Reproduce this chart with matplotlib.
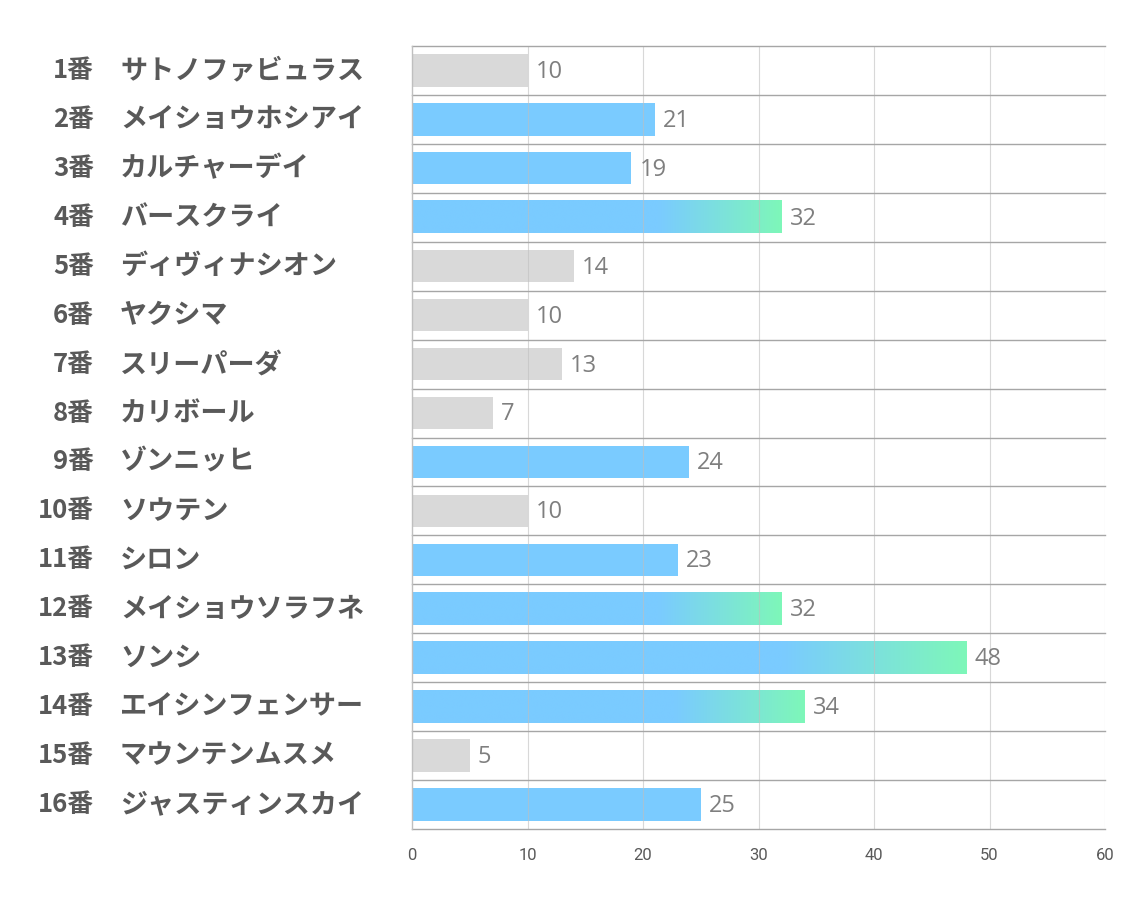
import matplotlib
matplotlib.use("Agg")
import matplotlib.pyplot as plt
import matplotlib.transforms as mtransforms
from matplotlib.colors import LinearSegmentedColormap
import numpy as np

plt.rcParams['font.family'] = ['Noto Sans CJK JP', 'DejaVu Sans']

numbers = ["1番", "2番", "3番", "4番", "5番", "6番", "7番", "8番",
           "9番", "10番", "11番", "12番", "13番", "14番", "15番", "16番"]
names = ["サトノファビュラス", "メイショウホシアイ", "カルチャーデイ", "バースクライ",
         "ディヴィナシオン", "ヤクシマ", "スリーパーダ", "カリボール",
         "ゾンニッヒ", "ソウテン", "シロン", "メイショウソラフネ",
         "ソンシ", "エイシンフェンサー", "マウンテンムスメ", "ジャスティンスカイ"]
values = [10, 21, 19, 32, 14, 10, 13, 7, 24, 10, 23, 32, 48, 34, 5, 25]
xticks = [0, 10, 20, 30, 40, 50, 60]

GRAY = "#D9D9D9"
BLUE = "#7ACBFF"
GREEN = "#7EF7B9"

fig = plt.figure(figsize=(11.34, 9.07), dpi=100)
ax = fig.add_axes([412/1134, 1-829/907, (1105-412)/1134, (829-46)/907])

n = len(values)
bh = 0.66

cmap = LinearSegmentedColormap.from_list("g", [(0, BLUE), (0.67, BLUE), (1.0, GREEN)])
grad = np.linspace(0, 1, 256).reshape(1, -1)

for i, v in enumerate(values):
    if v <= 14:
        ax.barh(i, v, height=bh, color=GRAY, zorder=1)
    elif v < 30:
        ax.barh(i, v, height=bh, color=BLUE, zorder=1)
    else:
        ax.imshow(grad, cmap=cmap, extent=(0, v, i + bh/2, i - bh/2),
                  aspect='auto', zorder=1, interpolation='bilinear')
    ax.text(v + 0.7, i + 0.03, str(v), va='center', ha='left',
            fontsize=17, color="#7F7F7F", family=['Open Sans', 'DejaVu Sans'])

ax.set_xlim(0, 60)
ax.set_ylim(n - 0.5, -0.5)

# vertical gridlines
for t in xticks[1:]:
    ax.axvline(t, color="#BFBFBF", lw=0.8, alpha=0.6, zorder=2)
# horizontal row separators
for k in range(n + 1):
    ax.axhline(k - 0.5, color="#A6A6A6", lw=1.0, zorder=3, clip_on=False)
ax.axvline(0, color="#BFBFBF", lw=1.0, zorder=3, clip_on=False)

for s in ax.spines.values():
    s.set_visible(False)

ax.set_yticks([])
ax.set_xticks(xticks)
ax.tick_params(axis='x', length=0, pad=14, labelsize=12, labelcolor="#595959")
for lab in ax.get_xticklabels():
    lab.set_family(['Liberation Sans Narrow', 'Roboto', 'DejaVu Sans'])

trans = mtransforms.blended_transform_factory(fig.transFigure, ax.transData)
for i, (num, nm) in enumerate(zip(numbers, names)):
    ax.text(94/1134, i, num, transform=trans, ha='right', va='center',
            fontsize=18.5, fontweight='bold', color="#595959")
    ax.text(120/1134, i, nm, transform=trans, ha='left', va='center',
            fontsize=19.5, fontweight='bold', color="#595959")

fig.savefig("out.png", dpi=100, facecolor='white')
